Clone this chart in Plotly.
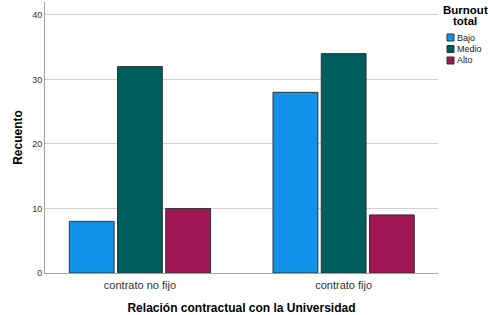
import plotly.graph_objects as go

categories = ["contrato no fijo", "contrato fijo"]
series_names = ["Bajo", "Medio", "Alto"]
bajo = [8, 28]
medio = [32, 34]
alto = [10, 9]
colors = ["#1192E8", "#005D5D", "#9F1853"]
legend_title_lines = ["Burnout", "total"]

W, H = 488, 315
ML, MR, MT, MB = 45, 50, 2, 42
PW, PH = W - ML - MR, H - MT - MB


def px_to_paper_x(px):
    return (px - ML) / PW


def px_to_paper_y(py):
    return (H - MB - py) / PH


fig = go.Figure()
for name, vals, col in zip(series_names, [bajo, medio, alto], colors):
    fig.add_trace(go.Bar(
        x=categories, y=vals, name=name, showlegend=False,
        marker=dict(color=col, line=dict(color="#333333", width=1)),
    ))

# manual compact legend (SPSS style)
annotations = []
shapes = []
for i, line in enumerate(legend_title_lines):
    annotations.append(dict(
        x=px_to_paper_x(465), y=px_to_paper_y(10 + 11 * i), xref="paper", yref="paper",
        text="<b>%s</b>" % line, showarrow=False, xanchor="center", yanchor="middle",
        font=dict(size=11.5, color="#000000"),
    ))
for i, (name, col) in enumerate(zip(series_names, colors)):
    y0 = 34 + 11.5 * i
    shapes.append(dict(
        type="rect", xref="paper", yref="paper",
        x0=px_to_paper_x(447), x1=px_to_paper_x(454),
        y0=px_to_paper_y(y0 + 7), y1=px_to_paper_y(y0),
        fillcolor=col, line=dict(color="#333333", width=1),
    ))
    annotations.append(dict(
        x=px_to_paper_x(455), y=px_to_paper_y(y0 + 3.5), xref="paper", yref="paper",
        text=name, showarrow=False, xanchor="left", yanchor="middle",
        font=dict(size=9, color="#222222"),
    ))

fig.update_layout(
    width=W, height=H,
    margin=dict(l=ML, r=MR, t=MT, b=MB),
    plot_bgcolor="white", paper_bgcolor="white",
    barmode="group", bargap=0.29, bargroupgap=0.07,
    showlegend=False,
    font=dict(family="Liberation Sans, Arial, sans-serif", color="#222222"),
    annotations=annotations, shapes=shapes,
    xaxis=dict(
        range=[-0.466, 1.463], showline=True, linecolor="#a0a0a0", linewidth=1,
        ticks="", tickfont=dict(size=11, color="#333333"), automargin=False,
        ticklabelstandoff=2,
        title=dict(text="<b>Relación contractual con la Universidad</b>",
                   font=dict(size=12, color="#000000"), standoff=14),
    ),
    yaxis=dict(
        range=[0, 42], tickvals=[0, 10, 20, 30, 40], showline=True,
        linecolor="#a0a0a0", linewidth=1, showgrid=True, gridcolor="#d0d0d0",
        ticks="", tickfont=dict(size=9, color="#333333"), zeroline=False,
        automargin=False,
        title=dict(text="<b>Recuento</b>", font=dict(size=12, color="#000000"),
                   standoff=6),
    ),
)

fig.write_html(
    "out.html",
    config={"displayModeBar": False},
    post_script="document.body.style.margin='0';document.body.style.padding='0';",
)
